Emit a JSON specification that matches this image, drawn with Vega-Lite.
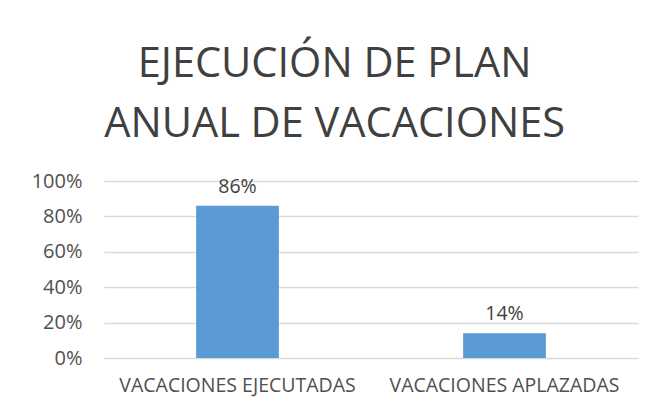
{
  "$schema": "https://vega.github.io/schema/vega-lite/v6.json",
  "width": 534,
  "height": 177,
  "autosize": {"type": "none"},
  "padding": {"left": 104, "top": 181, "right": 14, "bottom": 55},
  "background": "white",
  "data": {"values": [
    {"categoria": "VACACIONES EJECUTADAS", "valor": 0.86},
    {"categoria": "VACACIONES APLAZADAS", "valor": 0.14}
  ]},
  "title": {
    "text": ["EJECUCIÓN DE PLAN", "ANUAL DE VACACIONES"],
    "font": "Open Sans",
    "fontSize": 41.5,
    "fontWeight": "normal",
    "color": "#404040",
    "lineHeight": 59.5,
    "anchor": "middle",
    "frame": "bounds",
    "offset": 26
  },
  "encoding": {
    "x": {
      "field": "categoria",
      "type": "nominal",
      "sort": null,
      "scale": {"paddingInner": 0.69, "paddingOuter": 0.345},
      "axis": {
        "title": null,
        "labelAngle": 0,
        "labelFont": "Open Sans",
        "labelFontSize": 19.5,
        "labelLimit": 0,
        "labelColor": "#505050",
        "labelPadding": 18,
        "ticks": false,
        "domain": false
      }
    },
    "y": {
      "field": "valor",
      "type": "quantitative",
      "scale": {"domain": [0, 1]},
      "axis": {
        "title": null,
        "format": ".0%",
        "values": [0, 0.2, 0.4, 0.6, 0.8, 1],
        "labelFont": "Open Sans",
        "labelFontSize": 20,
        "labelColor": "#505050",
        "labelPadding": 22,
        "ticks": false,
        "domain": false,
        "grid": true,
        "gridColor": "#D9D9D9",
        "gridWidth": 1.3
      }
    }
  },
  "layer": [
    {"mark": {"type": "bar", "color": "#5B9BD5"}},
    {
      "mark": {"type": "text", "baseline": "bottom", "dy": -9, "font": "Open Sans", "fontSize": 19.5, "color": "#404040"},
      "encoding": {"text": {"field": "valor", "type": "quantitative", "format": ".0%"}}
    }
  ],
  "config": {"view": {"stroke": null}}
}
